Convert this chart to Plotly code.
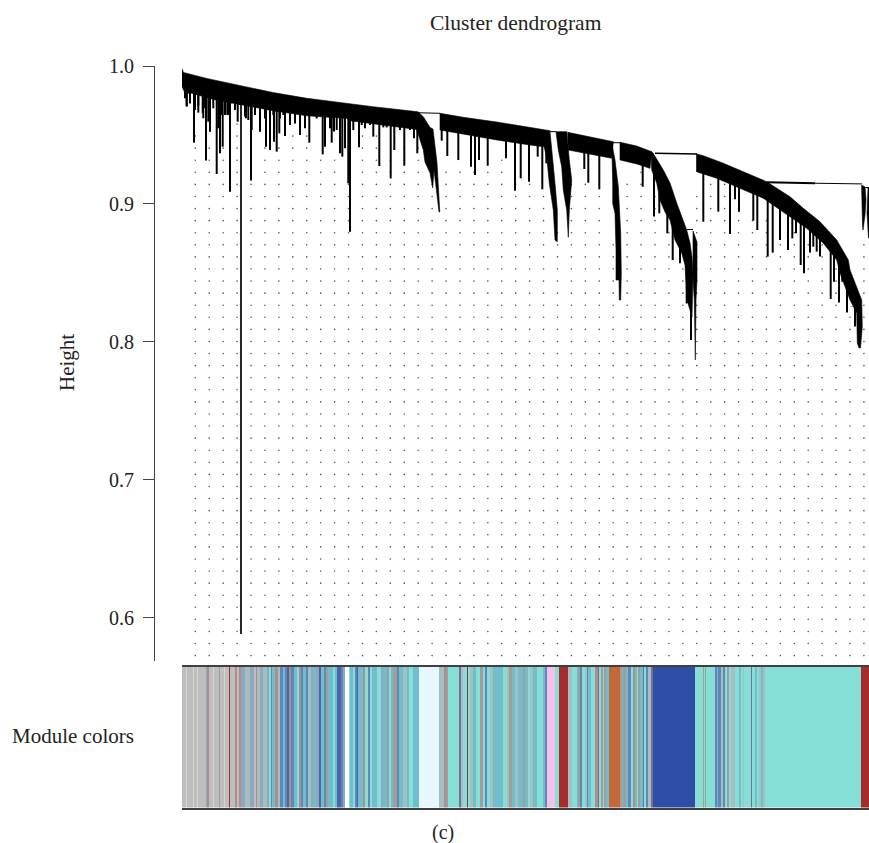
import numpy as np
import plotly.graph_objects as go

W, H = 869, 843
SERIF = "Liberation Serif"

# ---- dendrogram: filled clusters, (leaf rank, height) outlines
cl_a_x = [-0.7, 1.5, 24.7, 58, 91.3, 124.7, 158, 191, 236, 241.3, 248, 251, 255, 257.8, 257, 254, 252, 250.7, 248, 243, 241.3, 234.7, 191.3, 168, 164.7, 124.7, 91.3, 58, 31.3, 9.7, 3, -0.7]
cl_a_h = [.9991, .9953, .9910, .9857, .9807, .9766, .9734, .9705, .9668, .9632, .9555, .9543, .9297, .8942, .8942, .9101, .9246, .9116, .9224, .9304, .9391, .9540, .9579, .9603, .9620, .9639, .9675, .9722, .9758, .9802, .9802, .9862]
cl_b_x = [258, 281.3, 314.7, 348, 368, 361.3, 348, 314.7, 281.3, 258]
cl_b_h = [.9657, .9628, .9594, .9556, .9531, .9415, .9427, .9464, .9505, .9536]
cl_c_x = [368, 370.7, 373, 375.3, 375.3, 373, 371.3, 367.3, 364.7, 359.7]
cl_c_h = [.9524, .9343, .9149, .8956, .8726, .8738, .8956, .9149, .9343, .9476]
cl_d_x = [374, 384.7, 387.3, 389.7, 387.3, 386.3, 384.7, 381.3, 379.7, 376.3]
cl_d_h = [.9524, .9524, .9318, .9173, .8956, .8758, .8956, .9101, .9270, .9391]
cl_e_x = [385.7, 408, 431.3, 429.7, 408, 386.3]
cl_e_h = [.9519, .9487, .9451, .9331, .9362, .9391]
cl_f_x = [429.7, 433, 436.3, 438.7, 439.3, 438.7, 437.3, 437, 434, 434, 433, 430.7, 430.7, 429.7]
cl_f_h = [.9444, .9318, .9125, .8787, .8497, .8303, .8303, .8448, .8448, .8666, .8932, .9004, .9149, .9331]
cl_g_x = [438, 454.7, 469.7, 468, 454.7, 438]
cl_g_h = [.9447, .9420, .9379, .9258, .9290, .9319]
cl_h_x = [469, 471, 481.3, 488, 494.7, 501.3, 504.7, 508, 510, 511, 510, 505, 503, 499.7, 493, 488, 483, 478, 474.7, 469.7]
cl_h_h = [.9379, .9369, .9246, .9152, .9007, .8884, .8811, .8717, .8615, .8499, .8180, .8304, .8557, .8644, .8739, .8884, .8942, .9029, .9152, .9246]
cl_i_x = [511, 515, 515, 514, 513.3, 512.3, 511]
cl_i_h = [.8804, .8724, .8449, .8304, .7869, .8304, .8449]
cl_j_x = [514.5, 521.3, 541.3, 564.7, 584.7, 608, 621.3, 638, 654.7, 666.3, 668, 679.7, 680.3, 678.5, 677, 675.3, 674.7, 668, 658, 654.7, 641.3, 624.7, 608, 591.3, 581.3, 558, 534.7, 514.5]
cl_j_h = [.9362, .9350, .9295, .9222, .9161, .9052, .8968, .8871, .8739, .8594, .8521, .8304, .8110, .7956, .7956, .7992, .8209, .8304, .8499, .8594, .8715, .8823, .8907, .8992, .9041, .9113, .9186, .9234]
cl_k_x = [679.7, 683, 684, 683, 681, 680.5, 679.7]
cl_k_h = [.9137, .9123, .9029, .8920, .8811, .8847, .9101]
cl_l_x = [686, 687, 687, 686.5, 685]
cl_l_h = [.9118, .9118, .8753, .8753, .8934]
clusters = [(cl_a_x, cl_a_h), (cl_b_x, cl_b_h), (cl_c_x, cl_c_h), (cl_d_x, cl_d_h), (cl_e_x, cl_e_h),
            (cl_f_x, cl_f_h), (cl_g_x, cl_g_h), (cl_h_x, cl_h_h), (cl_i_x, cl_i_h), (cl_j_x, cl_j_h),
            (cl_k_x, cl_k_h), (cl_l_x, cl_l_h)]

# thin merges between clusters: x0, x1, h0, h1
merge_x0 = [236, 368, 431, 473, 584.7, 633, 505, 683]
merge_x1 = [258, 374, 438, 515, 633, 680, 511, 687]
merge_h0 = [.9661, .9524, .9444, .9367, .9157, .9150, .8815, .9118]
merge_h1 = [.9657, .9524, .9444, .9362, .9150, .9145, .8815, .9118]
merge_w = [1, 1, 1, 1.4, 1.8, 1, 1, 1]

# single drop lines below the clusters
spike_x = [4.7, 8, 12, 16.3, 21.3, 24, 28, 34.7, 38, 40.7, 48, 45.3, 55.7, 64, 69, 73, 78, 84, 88, 92, 94.7, 97.3,
           103, 108, 113, 118, 123, 127.3, 140.7, 143, 149.7, 154.7, 158, 160.3, 163, 166.3, 168, 171.3, 177, 183,
           191.3, 197.3, 201.3, 208.7, 212.3, 222.3, 232, 235.3,
           259.7, 265.3, 276.3, 289, 293, 297, 305.7, 324, 333, 338.7, 347, 355.7, 360.3, 364.3,
           402.3, 406.3, 417.3, 460.7, 472, 477.3, 485.3, 490.7, 498, 504.7, 509,
           521.3, 536.3, 548, 553, 557, 571.3, 575.3, 585.7, 590.7, 598, 606, 610.3, 614, 618.7, 622, 628, 631.3,
           634.7, 638, 648.7, 652, 657, 660.3, 665, 669.7, 673]
spike_h = [.9710, .9729, .9444, .9662, .9621, .9314, .9524, .9217, .9367, .9415, .9089, .9645, .9596, .9621, .9169,
           .9645, .9524, .9415, .9391, .9451, .9379, .9512, .9492, .9572, .9584, .9500, .9548, .9444, .9359, .9415,
           .9444, .9536, .9367, .9343, .9403, .9149, .8799, .9536, .9410, .9548, .9488, .9275, .9555, .9185, .9391,
           .9277, .9476, .9367,
           .9459, .9347, .9318, .9270, .9210, .9318, .9277, .9331, .9096, .9186, .9161, .9343, .9106, .9294,
           .9253, .9154, .9106, .9125, .8908, .8932, .8787, .8593, .8569, .8279, .8013,
           .8871, .8944, .8782, .9033, .8944, .8879, .8811, .8618, .8647, .8738, .8666, .8750, .8787, .8557, .8497,
           .8647, .8690, .8654, .8618, .8311, .8436, .8286, .8436, .8212, .8255, .8291]
# short stubs that make the underside of the band jagged
stub_x = [3, 4.7, 8, 13, 16.3, 20.7, 23, 26.3, 31.3, 36.3, 39.7, 43, 47, 49.7, 53, 58, 63, 66.3, 69.7, 73, 78, 83, 86.3,
          91.3, 94.7, 98, 101.3, 106.3, 109.7, 113, 118, 121.3, 134.7, 148, 152, 171, 179.7, 188, 204.7, 218, 228]
stub_h = [.9766, .9705, .9741, .9681, .9712, .9657, .9693, .9596, .9693, .9548, .9645, .9645, .9645, .9729, .9681, .9717,
          .9633, .9608, .9536, .9645, .9693, .9620, .9681, .9645, .9669, .9620, .9645, .9669, .9657, .9596, .9645, .9657,
          .9620, .9548, .9525, .9596, .9572, .9572, .9555, .9536, .9536]
long_spike_x = 59
long_spike_top = .975
long_spike_h = .5882

# underside of the black band, where the drop lines start
edge_x = [0, 31, 58, 91, 125, 165, 191, 235, 258, 281, 315, 348, 361, 386, 408, 430, 438, 455, 468, 471, 478, 483, 488, 493, 499.7, 503, 510, 514.5, 534.7, 558, 581.3, 608, 624.7, 641.3, 654.7, 668, 675]
edge_h = [.9802, .9758, .9722, .9675, .9639, .9620, .9579, .9540, .9536, .9505, .9464, .9427, .9415, .9391, .9362, .9331, .9319, .9290, .9261, .9240, .9029, .8942, .8884, .8739, .8644, .8557, .84, .9234, .9186, .9113, .9041, .8907, .8823, .8715, .8594, .8304, .7992]

# dotted guides: where each one starts
guide_first = 13.3
guide_step = 13.93
guide_start = [.9485, .9398, .9398, .9572, .9485, .9398, .9398, .9485, .9485, .9319, .9319, .9485, .9485, .9485, .9319,
               .9485, .9398, .9232, .9232, .9232, .9232, .9232, .9319, .9145, .9145, .9050, .8789, .9145, .9145, .9050,
               .8717, .9145, .9232, .9050, .8789, .8521, .9050, .9145, .9145, .9050, .8876, .8876, .8789, .8789, .8702,
               .8702, .8528, .8180, .8702]
row_ref = .9229
row_step = .00876
row_last = .5665

# ---- module colours
ticks_h = [0.6, 0.7, 0.8, 0.9, 1.0]
palette = {"G": "#BEBEBE", "Lg": "#D6D6D6", "T": "#85DFD7", "B": "#2F4EA5", "R": "#A52C2C", "C": "#E7F8FC",
           "W": "#FFFFFF", "P": "#F4C2E8", "O": "#C56738", "S": "#8FA8BE", "M": "#B08C8C", "A": "#A5BEBF",
           "L": "#70BECB", "N": "#5F88BA", "H": "#A39C98", "D": "#7E6A96", "E": "#4A66AA"}
run_ends_a = [17, 20, 40, 43, 52, 55, 78, 82, 87, 98, 101, 116, 119, 133, 136, 147, 150, 166, 170, 178, 183, 195, 210, 221, 228, 232, 240, 250, 262, 268, 273, 277, 285, 293, 300, 308, 316, 322, 328, 334, 342, 350, 358, 364, 370, 378, 384, 392, 400, 408, 418, 424, 432, 438, 445, 458, 465, 472, 484, 490, 495, 508, 510]
run_mods_a = "G Lg G Lg G Lg G S M G Lg G H G Lg G R G M G M S A S G M A S A S T N L M A N L N E M N L T M N L N A S L S E L N H L T L E N S W T".split()
run_ends_b = [8, 14, 20, 25, 40, 46, 55, 60, 66, 80, 92, 100, 110, 116, 124, 130, 140, 146, 160, 170, 178, 190, 207, 268, 282, 288, 295, 328, 334, 340, 350, 353, 360, 370, 378, 390, 400, 406, 412, 420, 430, 460, 470, 478, 486, 495, 505, 510]
run_mods_b = "L T N E L M T N T L T S L H T L H N L A L T L C A M H T D A T R T A L T H T N T A L T A H L A L".split()
run_ends_c = [8, 15, 25, 30, 38, 50, 70, 75, 80, 105, 118, 145, 155, 170, 175, 180, 186, 195, 200, 205, 212, 226, 233, 238, 242, 248, 253, 258, 268, 300, 305, 310, 318, 325, 332, 340, 345, 350, 355, 360, 368, 372, 378, 385, 392, 398, 510]
run_mods_c = "L H L T A L T L N P T R A T L H N T A N L T M D T H T H L O H L H L N T M L T H L D T N A D B".split()
run_ends_d = [15, 40, 43, 46, 49, 75, 80, 85, 92, 98, 104, 112, 118, 122, 134, 148, 152, 158, 162, 182, 186, 195, 200, 207, 212, 220, 224, 513, 537]
run_mods_d = "B T H T H T N S N A N T H T A T L T A T D T L T A L A T R".split()
strip_start = 6
strip_end = 2067
region_offset = 510

# ---- build
codes = list(palette)
n_codes = len(codes)
colorscale = [[i / (n_codes - 1), palette[c]] for i, c in enumerate(codes)]
z = np.zeros(strip_end, dtype=int)
for r, (ends, mods) in enumerate([(run_ends_a, run_mods_a), (run_ends_b, run_mods_b), (run_ends_c, run_mods_c), (run_ends_d, run_mods_d)]):
    start = r * region_offset
    for e, m in zip(ends, mods):
        stop = r * region_offset + e
        z[start:stop] = codes.index(m)
        start = stop

fig = go.Figure()

# guides
gx, gy = [], []
rows = row_ref + row_step * np.arange(4, -60, -1)
rows = rows[rows >= row_last]
for k, s in enumerate(guide_start):
    for r in rows:
        if r <= s + .002:
            gx.append(guide_first + guide_step * k)
            gy.append(r)
fig.add_trace(go.Scatter(x=gx, y=gy, mode="markers", cliponaxis=False, hoverinfo="skip",
                         marker=dict(size=1.6, color="#555555", line=dict(width=0))))

# drop lines
sx, sy = [], []
for x, h in list(zip(spike_x, spike_h)) + list(zip(stub_x, stub_h)):
    sx += [x, x, None]
    sy += [float(np.interp(x, edge_x, edge_h)) + .003, h, None]
fig.add_trace(go.Scatter(x=sx, y=sy, mode="lines", hoverinfo="skip", line=dict(color="black", width=2)))
fig.add_trace(go.Scatter(x=[long_spike_x, long_spike_x], y=[long_spike_top, long_spike_h], mode="lines",
                         hoverinfo="skip", line=dict(color="black", width=1.7)))

# merges
for x0, x1, h0, h1, w in zip(merge_x0, merge_x1, merge_h0, merge_h1, merge_w):
    fig.add_trace(go.Scatter(x=[x0, x1], y=[h0, h1], mode="lines", hoverinfo="skip",
                             line=dict(color="black", width=w)))

# clusters
for cx, ch in clusters:
    fig.add_trace(go.Scatter(x=cx + cx[:1], y=ch + ch[:1], mode="lines", fill="toself", fillcolor="black",
                             hoverinfo="skip", line=dict(color="black", width=0.6)))

# colour strip
fig.add_trace(go.Heatmap(z=[z[strip_start:].tolist()], x=(np.arange(strip_start, strip_end) + .5).tolist(), y=[0],
                         xaxis="x2", yaxis="y2", zmin=0, zmax=n_codes - 1, colorscale=colorscale,
                         showscale=False, hoverinfo="skip"))

fig.update_layout(
    width=W, height=H, margin=dict(l=0, r=0, t=0, b=0, autoexpand=False), paper_bgcolor="white", plot_bgcolor="white",
    showlegend=False, font=dict(family=SERIF, color="#222222"),
    xaxis=dict(domain=[182 / W, 1], range=[0, 687], visible=False),
    yaxis=dict(domain=[(H - 661) / H, (H - 66) / H], range=[.5686, 1.0], anchor="free", position=154 / W,
               tickvals=ticks_h, ticktext=["0.6", "0.7", "0.8", "0.9", "1.0"], ticks="outside", ticklen=11,
               tickwidth=1.2, tickcolor="#444444", showline=True, linewidth=1.2, linecolor="#444444",
               showgrid=False, zeroline=False, tickfont=dict(size=20, family=SERIF, color="#222222"),
               ticklabelstandoff=5),
    xaxis2=dict(domain=[182 / W, 1], range=[strip_start, strip_end], anchor="y2", showticklabels=False, ticks="",
                showgrid=False, zeroline=False, showline=True, mirror=True, linewidth=1.6,
                linecolor="rgba(30,30,30,0.85)"),
    yaxis2=dict(domain=[(H - 807.5) / H, (H - 667) / H], range=[-.5, .5], anchor="x2", visible=False),
    annotations=[
        dict(text="Cluster dendrogram", x=516 / W, y=(H - 23) / H, xref="paper", yref="paper", showarrow=False,
             font=dict(size=21.5, family=SERIF, color="#222222"), xanchor="center", yanchor="middle"),
        dict(text="Height", x=67 / W, y=(H - 363) / H, xref="paper", yref="paper", showarrow=False, textangle=-90,
             font=dict(size=21, family=SERIF, color="#222222"), xanchor="center", yanchor="middle"),
        dict(text="Module colors", x=73 / W, y=(H - 736) / H, xref="paper", yref="paper", showarrow=False,
             font=dict(size=21, family=SERIF, color="#222222"), xanchor="center", yanchor="middle"),
        dict(text="(c)", x=443 / W, y=(H - 832) / H, xref="paper", yref="paper", showarrow=False,
             font=dict(size=20, family=SERIF, color="#222222"), xanchor="center", yanchor="middle"),
    ],
)
fig.write_html("out.html", config=dict(displayModeBar=False),
               post_script="document.body.style.margin='0';var g=document.querySelector('.plotly-graph-div');g.style.position='absolute';g.style.left='0';g.style.top='0';")
